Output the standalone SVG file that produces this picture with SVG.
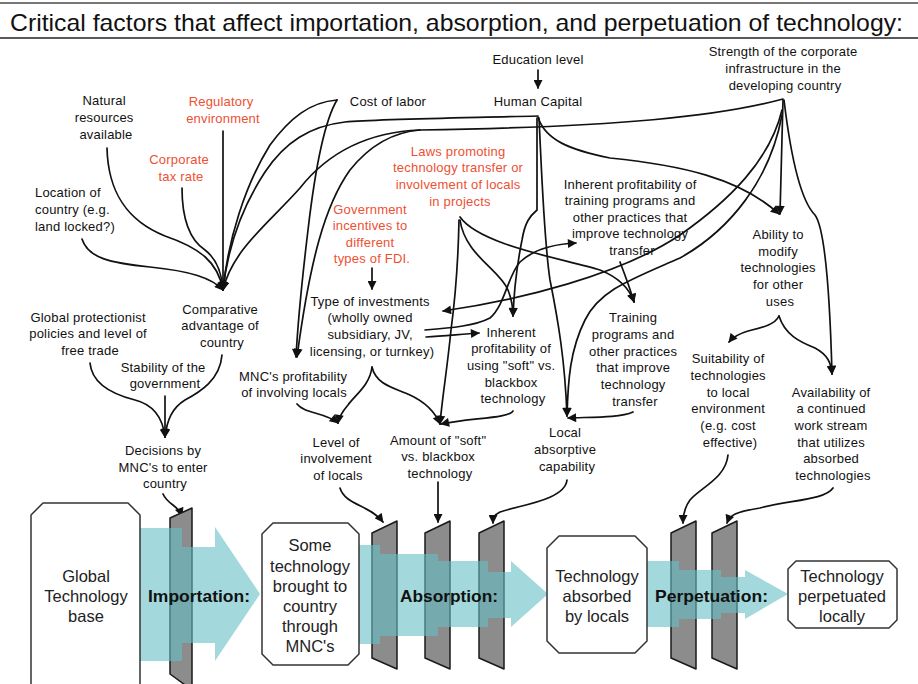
<svg xmlns="http://www.w3.org/2000/svg" width="918" height="684" viewBox="0 0 918 684">
<style>
  .t { font-family: "Liberation Sans", Arial, sans-serif; font-size: 13px; fill: #111; text-anchor: middle; letter-spacing: 0.2px; }
  .l { text-anchor: start; }
  .r { fill: #ee5032; }
  .big { font-size: 16.5px; fill: #222; letter-spacing: 0; }
  .stage { font-family: "Liberation Sans", Arial, sans-serif; font-weight: bold; font-size: 17px; fill: #111; }
  .title { font-family: "Liberation Sans", Arial, sans-serif; font-size: 24px; fill: #111; }
  .c { fill: none; stroke: #111; stroke-width: 1.7; stroke-linecap: round; }
  .c path { marker-end: url(#ah); }
  .c path.nm { marker-end: none; }
  .gate { fill: #8c8c8c; stroke: #1a1a1a; stroke-width: 1.5; stroke-linejoin: round; }
  .flow { fill: rgb(102,192,197); fill-opacity: 0.6; stroke: none; }
  .oct { fill: #fff; stroke: #333; stroke-width: 1.5; stroke-linejoin: round; }
</style>
<defs>
  <marker id="ah" viewBox="0 0 10 10" refX="9" refY="5" markerWidth="10" markerHeight="9" markerUnits="userSpaceOnUse" orient="auto">
    <path d="M0,0 L10,5 L0,10 z" fill="#111"/>
  </marker>
</defs>

<rect width="918" height="684" fill="#fff"/>

<!-- title bar -->
<g id="title">
  <line x1="0" y1="3" x2="918" y2="3" stroke="#777" stroke-width="2"/>
  <line x1="0" y1="38" x2="918" y2="38" stroke="#222" stroke-width="1.5"/>
  <text class="title" x="10" y="31" textLength="893" lengthAdjust="spacingAndGlyphs">Critical factors that affect importation, absorption, and perpetuation of technology:</text>
</g>

<!-- connectors -->
<g id="connectors" class="c">
  <!-- education -> human capital -->
  <path d="M538,70 L538,88"/>
  <!-- into comparative advantage -->
  <path d="M107,148 C108,190 125,220 165,236 C200,248 218,262 223,290"/>
  <path d="M223,131 L223,290"/>
  <path d="M182,188 C182,220 190,240 205,250 C218,260 222,275 223,290"/>
  <path d="M82,239 C88,258 110,263 150,267 C190,271 212,278 223,290"/>
  <path d="M337,100 C310,102 290,118 270,145 C245,185 228,240 223,290"/>
  <path d="M538,116 C460,118 380,119 345,122 C310,126 285,142 265,172 C242,207 228,245 223,290"/>
  <path d="M783,99 C720,116 620,127 420,130 C370,132 330,150 300,188 C270,222 232,250 223,290"/>
  <!-- into MNC's profitability -->
  <path d="M420,130 C395,132 370,145 350,170 C325,205 310,260 297,357"/>
  <path d="M337,100 C325,120 315,170 308,230 C302,280 298,320 296,357"/>
  <!-- government incentives -> type of investments -->
  <path d="M372,268 L372,289"/>
  <!-- strength -> type of investments -->
  <path d="M782,110 C770,160 730,200 680,235 C620,275 520,300 443,311"/>
  <!-- strength -> local absorptive capability -->
  <path d="M782,115 C770,180 730,230 680,258 C630,280 600,290 585,320 C570,350 568,380 567,416"/>
  <!-- human capital -> inherent profitability (soft) -->
  <path d="M537,118 L537,210 C530,216 525,222 522,240 C517,265 514,290 513,316"/>
  <!-- human capital -> local absorptive capability -->
  <path d="M539,118 C542,180 544,240 550,280 C558,320 565,360 567,416"/>
  <!-- human capital -> ability to modify -->
  <path d="M538,117 C545,140 570,150 610,158 C680,165 740,178 779,214"/>
  <!-- strength -> ability to modify -->
  <path d="M783,100 L780,214"/>
  <!-- laws -> training, soft, amount -->
  <path d="M460,217 C480,245 560,258 600,270 C620,278 630,290 634,302"/>
  <path d="M460,220 C465,255 500,270 508,290 C512,300 513,308 513,316"/>
  <path d="M459,220 C458,270 455,300 451,330 C447,370 442,400 440,424"/>
  <!-- inherent profitability of training -> training programs -->
  <path d="M620,262 C625,275 630,288 634,302"/>
  <!-- type of investments -> inherent profitability (training / soft) -->
  <path d="M425,330 C450,328 475,326 490,318 C505,305 508,275 520,262 C535,248 555,244 576,243"/>
  <path d="M426,337 C445,336 462,334 479,333"/>
  <!-- type of investments -> level of involvement / amount -->
  <path d="M372,367 C370,385 355,395 348,405 C342,412 339,417 338,423"/>
  <path d="M372,367 C376,385 395,388 410,395 C425,402 435,412 440,424"/>
  <!-- MNC's profitability -> level of involvement -->
  <path d="M297,404 C305,414 325,412 338,423"/>
  <!-- inherent soft -> amount -->
  <path d="M513,411 C510,418 470,418 441,424"/>
  <!-- training programs -> local absorptive -->
  <path d="M633,412 C620,418 590,417 568,418"/>
  <!-- ability to modify -> suitability / availability -->
  <path d="M779,316 C775,325 760,328 748,331 C738,334 733,337 729,342"/>
  <path d="M779,316 C785,335 800,342 815,348 C828,355 831,363 832,374"/>
  <!-- strength -> availability -->
  <path d="M784,100 C790,150 800,200 815,215 C826,230 830,300 832,374"/>
  <!-- into decisions by MNC's -->
  <path d="M90,363 C92,385 115,395 135,400 C155,405 163,420 165,437"/>
  <path d="M165,396 L165,437"/>
  <path d="M222,355 C220,380 200,392 185,400 C172,408 167,420 165,437"/>
  <!-- factors -> gates -->
  <path d="M163,494 C168,505 178,505 182,516"/>
  <path d="M340,488 C345,505 370,505 383,522"/>
  <path d="M438,482 L438,522"/>
  <path d="M567,480 C565,500 520,505 500,512 C494,515 493,518 493,523"/>
  <path d="M728,455 C726,478 700,488 690,500 C684,508 683,515 683,523"/>
  <path d="M833,488 C825,500 790,500 760,508 C735,512 730,515 727,523"/>
</g>

<!-- factor nodes -->
<g id="education"><text class="t" x="538" y="64">Education level</text></g>
<g id="human-capital"><text class="t" x="538" y="106">Human Capital</text></g>
<g id="strength"><text class="t">
  <tspan x="785" y="56">Strength of the corporate</tspan>
  <tspan x="785" y="73">infrastructure in the</tspan>
  <tspan x="785" y="90">developing country</tspan></text></g>
<g id="natural"><text class="t">
  <tspan x="106" y="105">Natural</tspan>
  <tspan x="106" y="122">resources</tspan>
  <tspan x="106" y="139">available</tspan></text></g>
<g id="regulatory"><text class="t r">
  <tspan x="223" y="106">Regulatory</tspan>
  <tspan x="223" y="123">environment</tspan></text></g>
<g id="cost-labor"><text class="t" x="388" y="106">Cost of labor</text></g>
<g id="tax"><text class="t r">
  <tspan x="181" y="164">Corporate</tspan>
  <tspan x="181" y="181">tax rate</tspan></text></g>
<g id="location"><text class="t l">
  <tspan x="35" y="197">Location of</tspan>
  <tspan x="35" y="214">country (e.g.</tspan>
  <tspan x="35" y="231">land locked?)</tspan></text></g>
<g id="laws"><text class="t r">
  <tspan x="460" y="156">Laws promoting</tspan>
  <tspan x="460" y="172">technology transfer or</tspan>
  <tspan x="460" y="189">involvement of locals</tspan>
  <tspan x="460" y="206">in projects</tspan></text></g>
<g id="incentives"><text class="t r">
  <tspan x="372" y="214">Government</tspan>
  <tspan x="372" y="230">incentives to</tspan>
  <tspan x="372" y="247">different</tspan>
  <tspan x="372" y="263">types of FDI.</tspan></text></g>
<g id="profit-training"><text class="t">
  <tspan x="632" y="189">Inherent profitability of</tspan>
  <tspan x="632" y="205">training programs and</tspan>
  <tspan x="632" y="222">other practices that</tspan>
  <tspan x="632" y="238">improve technology</tspan>
  <tspan x="632" y="255">transfer</tspan></text></g>
<g id="ability"><text class="t">
  <tspan x="780" y="239">Ability to</tspan>
  <tspan x="780" y="256">modify</tspan>
  <tspan x="780" y="272">technologies</tspan>
  <tspan x="780" y="289">for other</tspan>
  <tspan x="780" y="306">uses</tspan></text></g>
<g id="protectionist"><text class="t">
  <tspan x="90" y="322">Global protectionist</tspan>
  <tspan x="90" y="338">policies and level of</tspan>
  <tspan x="90" y="355">free trade</tspan></text></g>
<g id="comparative"><text class="t">
  <tspan x="222" y="314">Comparative</tspan>
  <tspan x="222" y="330">advantage of</tspan>
  <tspan x="222" y="347">country</tspan></text></g>
<g id="investments"><text class="t">
  <tspan x="372" y="306">Type of investments</tspan>
  <tspan x="372" y="322">(wholly owned</tspan>
  <tspan x="372" y="339">subsidiary, JV,</tspan>
  <tspan x="372" y="356">licensing, or turnkey)</tspan></text></g>
<g id="profit-soft"><text class="t">
  <tspan x="513" y="337">Inherent</tspan>
  <tspan x="513" y="353">profitability of</tspan>
  <tspan x="513" y="370">using "soft" vs.</tspan>
  <tspan x="513" y="387">blackbox</tspan>
  <tspan x="513" y="403">technology</tspan></text></g>
<g id="training"><text class="t">
  <tspan x="635" y="322">Training</tspan>
  <tspan x="635" y="339">programs and</tspan>
  <tspan x="635" y="356">other practices</tspan>
  <tspan x="635" y="372">that improve</tspan>
  <tspan x="635" y="389">technology</tspan>
  <tspan x="635" y="406">transfer</tspan></text></g>
<g id="stability"><text class="t">
  <tspan x="165" y="372">Stability of the</tspan>
  <tspan x="165" y="388">government</tspan></text></g>
<g id="mnc-profit"><text class="t">
  <tspan x="295" y="381">MNC's profitability</tspan>
  <tspan x="294" y="397">of involving locals</tspan></text></g>
<g id="suitability"><text class="t">
  <tspan x="730" y="363">Suitability of</tspan>
  <tspan x="730" y="380">technologies</tspan>
  <tspan x="730" y="397">to local</tspan>
  <tspan x="730" y="413">environment</tspan>
  <tspan x="730" y="430">(e.g. cost</tspan>
  <tspan x="730" y="447">effective)</tspan></text></g>
<g id="availability"><text class="t">
  <tspan x="833" y="397">Availability of</tspan>
  <tspan x="833" y="413">a continued</tspan>
  <tspan x="833" y="430">work stream</tspan>
  <tspan x="833" y="447">that utilizes</tspan>
  <tspan x="833" y="463">absorbed</tspan>
  <tspan x="833" y="480">technologies</tspan></text></g>
<g id="decisions"><text class="t">
  <tspan x="165" y="455">Decisions by</tspan>
  <tspan x="165" y="472">MNC's to enter</tspan>
  <tspan x="165" y="488">country</tspan></text></g>
<g id="involvement"><text class="t">
  <tspan x="338" y="447">Level of</tspan>
  <tspan x="338" y="463">involvement</tspan>
  <tspan x="338" y="480">of locals</tspan></text></g>
<g id="amount"><text class="t">
  <tspan x="440" y="445">Amount of "soft"</tspan>
  <tspan x="440" y="461">vs. blackbox</tspan>
  <tspan x="440" y="478">technology</tspan></text></g>
<g id="absorptive"><text class="t">
  <tspan x="567" y="437">Local</tspan>
  <tspan x="567" y="454">absorptive</tspan>
  <tspan x="567" y="471">capability</tspan></text></g>

<!-- gates -->
<g id="gates">
  <polygon class="gate" points="170,518 192,508 192,690 170,674"/>
  <polygon class="gate" points="372,533 397,521 397,669 372,658"/>
  <polygon class="gate" points="425,533 450,521 450,669 425,658"/>
  <polygon class="gate" points="479,533 504,521 504,669 479,658"/>
  <polygon class="gate" points="671,533 696,521 696,669 671,658"/>
  <polygon class="gate" points="712,533 737,521 737,669 712,658"/>
</g>

<!-- flow arrows -->
<g id="importation">
  <rect class="flow" x="140" y="528" width="42" height="133"/>
  <path class="flow" d="M182,547 L215,547 L215,527 L260,594 L215,661 L215,643 L182,643 Z"/>
  <text class="stage" x="148" y="602" textLength="102" lengthAdjust="spacingAndGlyphs">Importation:</text>
</g>
<g id="absorption">
  <rect class="flow" x="359" y="545" width="21" height="99"/>
  <rect class="flow" x="380" y="554" width="58" height="82"/>
  <rect class="flow" x="438" y="561" width="50" height="66"/>
  <path class="flow" d="M488,572 L511,572 L511,561 L548,594 L511,627 L511,618 L488,618 Z"/>
  <text class="stage" x="400" y="602" textLength="98" lengthAdjust="spacingAndGlyphs">Absorption:</text>
</g>
<g id="perpetuation">
  <rect class="flow" x="647" y="561" width="32" height="66"/>
  <rect class="flow" x="679" y="570" width="42" height="49"/>
  <rect class="flow" x="721" y="577" width="24" height="36"/>
  <path class="flow" d="M745,570 L788,594 L745,619 Z"/>
  <text class="stage" x="655" y="602" textLength="113" lengthAdjust="spacingAndGlyphs">Perpetuation:</text>
</g>

<!-- stage boxes -->
<g id="global-base">
  <polygon class="oct" points="43,503 128,503 140,515 140,690 128,702 43,702 31,690 31,515"/>
  <text class="t big"><tspan x="86" y="582">Global</tspan><tspan x="86" y="602">Technology</tspan><tspan x="86" y="622">base</tspan></text>
</g>
<g id="brought">
  <polygon class="oct" points="273,523 348,523 359,534 359,654 348,665 273,665 262,654 262,534"/>
  <text class="t big"><tspan x="310" y="551">Some</tspan><tspan x="310" y="572">technology</tspan><tspan x="310" y="592">brought to</tspan><tspan x="310" y="612">country</tspan><tspan x="310" y="632">through</tspan><tspan x="310" y="652">MNC's</tspan></text>
</g>
<g id="absorbed">
  <polygon class="oct" points="559,536 635,536 647,548 647,641 635,653 559,653 547,641 547,548"/>
  <text class="t big"><tspan x="597" y="582">Technology</tspan><tspan x="597" y="602">absorbed</tspan><tspan x="597" y="622">by locals</tspan></text>
</g>
<g id="perpetuated">
  <polygon class="oct" points="796,561 889,561 897,569 897,620 889,628 796,628 788,620 788,569"/>
  <text class="t big"><tspan x="842" y="582">Technology</tspan><tspan x="842" y="602">perpetuated</tspan><tspan x="842" y="622">locally</tspan></text>
</g>
</svg>
